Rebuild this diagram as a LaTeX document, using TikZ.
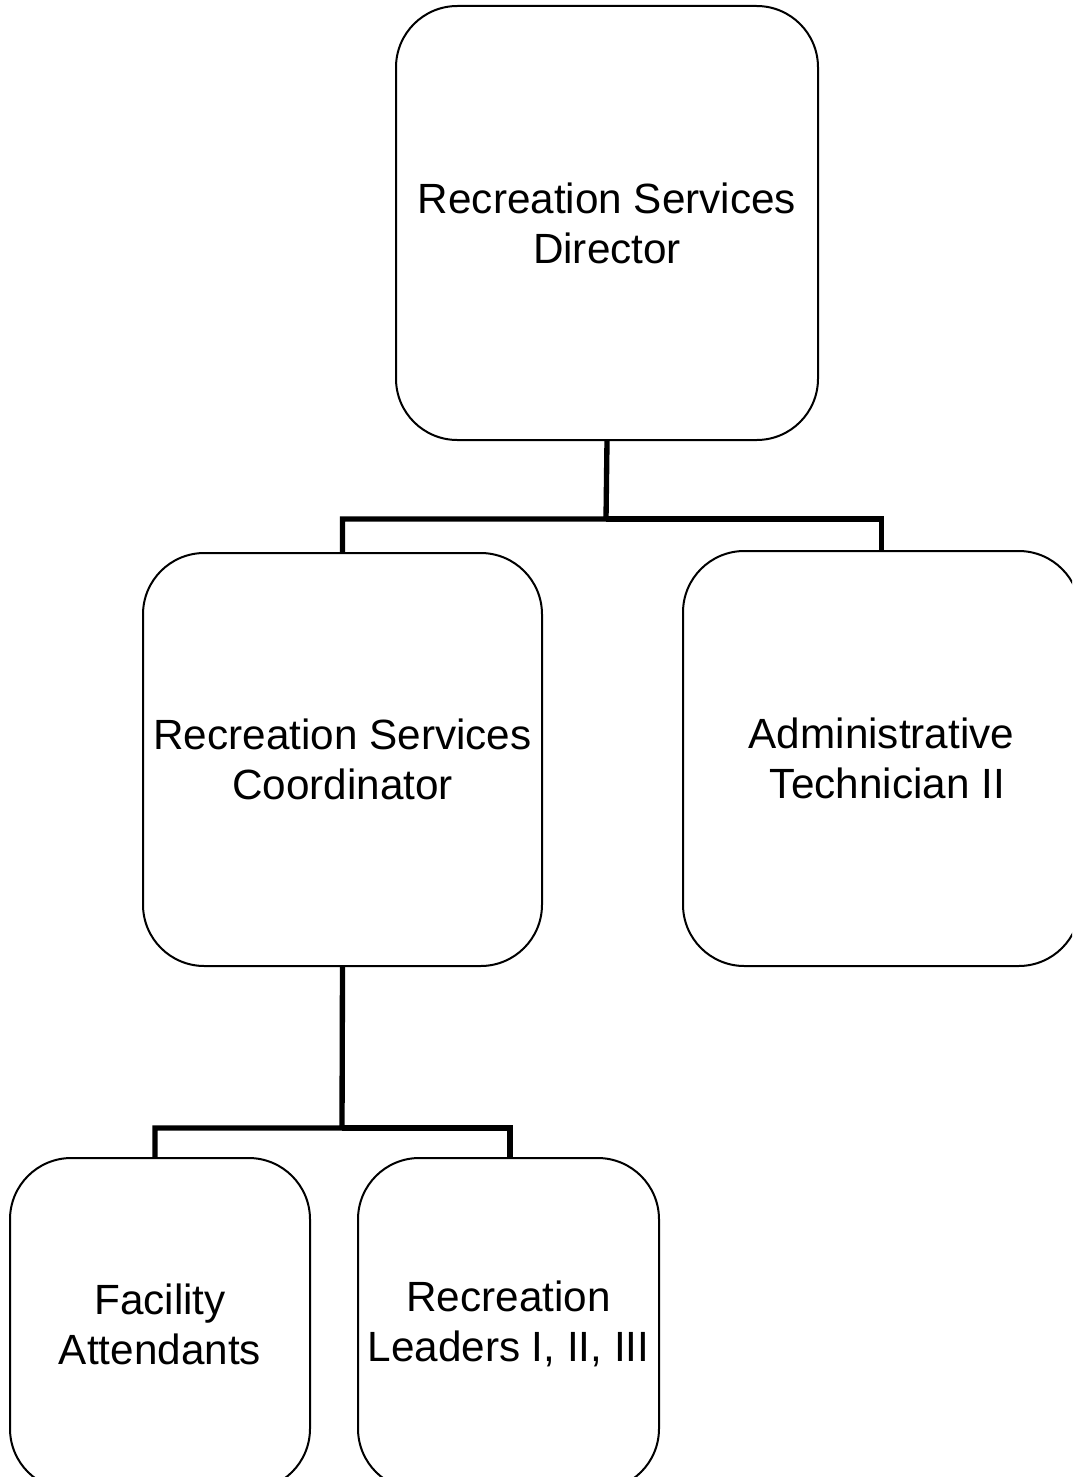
\documentclass[tikz,border=0pt]{standalone}
\usepackage{fontspec}
\setmainfont{Liberation Sans}
\begin{document}
\begin{tikzpicture}[x=0.75pt,y=-0.75pt,
  box/.style={draw=black, line width=1.5pt, rounded corners=46pt, align=center,
    inner sep=0pt, font=\fontsize{31.7}{37.5}\selectfont},
  conn/.style={draw=black, line width=4pt}]
\useasboundingbox (0,0) rectangle (1072,1477);
\clip (0,0) rectangle (1072,1477);
\node[box, minimum width=316.5pt, minimum height=325.5pt] (dir) at (607,223) {Recreation Services\ \\Director};
\node[box, minimum width=299.25pt, minimum height=309.75pt] (coord) at (342.5,759.5) {Recreation Services\\Coordinator};
\node[box, minimum width=297.75pt, minimum height=311.25pt] (admin) at (881.5,758.5) {Administrative\\\ Technician II};
\node[box, minimum width=225pt, minimum height=249pt] (fac) at (160,1324) {Facility\\Attendants};
\node[box, minimum width=225.75pt, minimum height=249pt] (lead) at (508.5,1324) {Recreation\ \\Leaders I, II, III};
\coordinate (j1) at (606,519);
\coordinate (j2) at (342,1128);
\draw[conn] (dir.south) -- (j1) -| (coord.north);
\draw[conn] (j1) -| (admin.north);
\draw[conn] (coord.south) -- (j2) -| ([xshift=-3.75pt]fac.north);
\draw[conn] (j2) -| ([xshift=1pt]lead.north);
\end{tikzpicture}
\end{document}
